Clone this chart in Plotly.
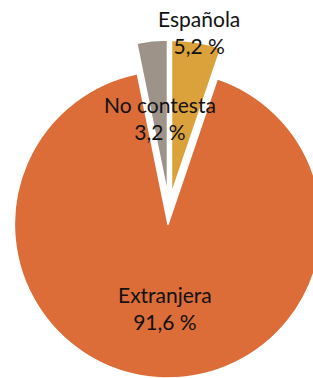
import plotly.graph_objects as go

# Data
categories = ["Española", "Extranjera", "No contesta"]
values = [5.2, 91.6, 3.2]
value_labels = ["5,2 %", "91,6 %", "3,2 %"]
colors = ["#DBA23B", "#DC6C38", "#9E9389"]
pulls = [0.1, 0.1, 0.1]

W, H = 338, 378
L, T = 0, 40
PW, PH = W - L, H - T

def px(x):
    return (x - L) / PW

def py(y):
    return 1 - (y - T) / PH

fig = go.Figure(go.Pie(
    labels=categories,
    values=values,
    sort=False,
    direction="clockwise",
    rotation=0,
    pull=pulls,
    marker=dict(colors=colors, line=dict(color="white", width=1.5)),
    textinfo="none",
    hoverinfo="skip",
    showlegend=False,
    domain=dict(x=[0, 1], y=[0, 1]),
))

# label positions (pixel centres)
label_pos = {"Española": (199, 32), "Extranjera": (165, 308), "No contesta": (160, 118)}
for cat, lab in zip(categories, value_labels):
    x, y = label_pos[cat]
    fig.add_annotation(
        x=px(x), y=py(y), xref="paper", yref="paper",
        text=f"{cat}<br>{lab}", showarrow=False,
        xanchor="center", yanchor="middle",
        font=dict(family="Lato", size=21, color="#111111"),
    )

fig.update_layout(
    width=W, height=H,
    margin=dict(l=L, r=0, t=T, b=0, autoexpand=False),
    paper_bgcolor="white", plot_bgcolor="white",
)

fig.write_html(
    "out.html",
    config={"displayModeBar": False},
    post_script="document.body.style.margin='0';document.body.style.overflow='hidden';document.documentElement.style.overflow='hidden';",
)
